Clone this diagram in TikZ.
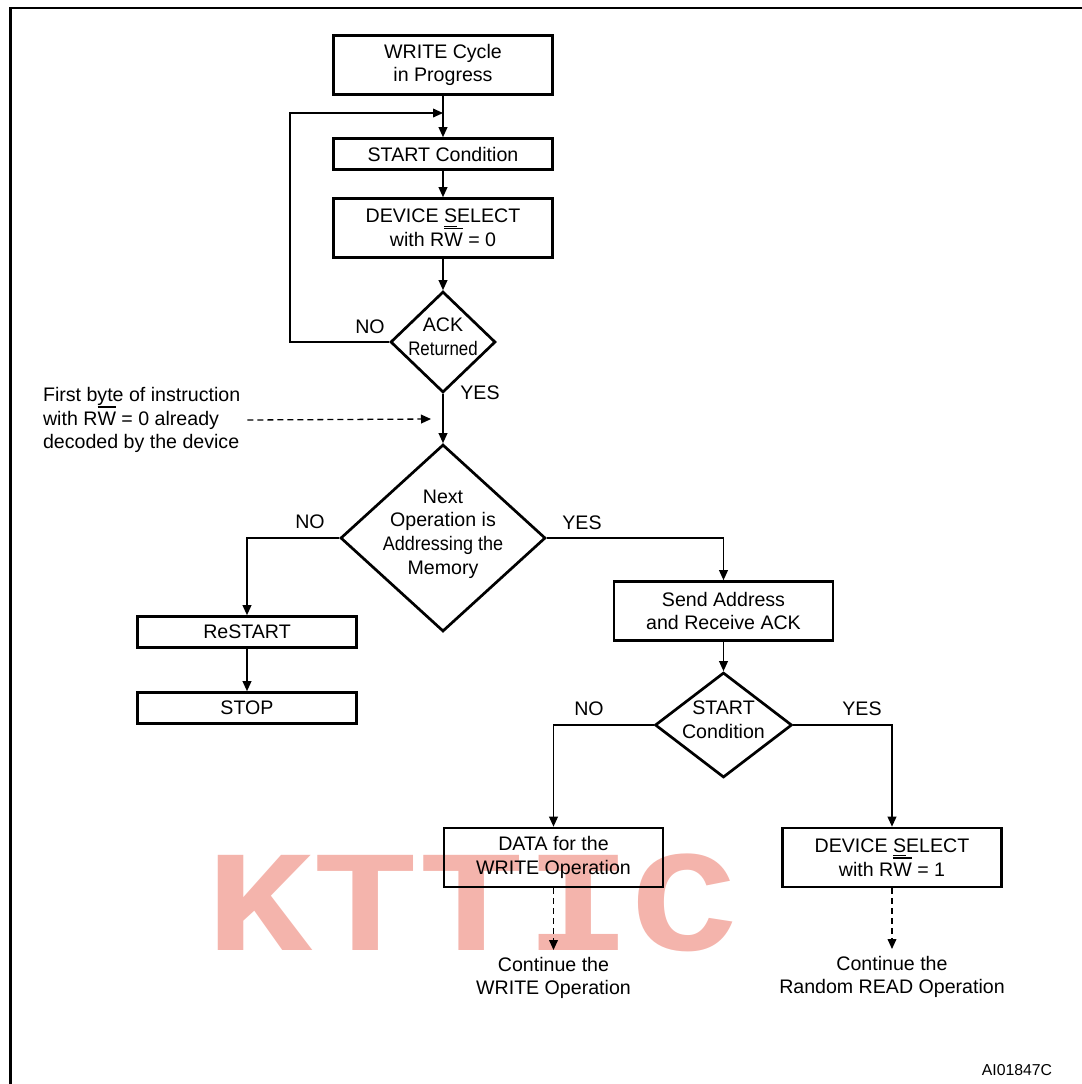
\documentclass[tikz,border=0pt]{standalone}
\usepackage{fontspec}
\setmainfont{Liberation Sans}
\newfontfamily\markfont{Liberation Mono}
\usetikzlibrary{shapes.geometric,arrows.meta}
\definecolor{markpink}{RGB}{244,180,172}
% W with a bar over it, S with a bar under it
\newcommand{\barW}{\leavevmode\setbox0\hbox{W}\rlap{\rule[8.7pt]{\wd0}{0.6pt}}W}
\newcommand{\lowS}{\leavevmode\setbox0\hbox{S}\rlap{\rule[-2pt]{\wd0}{0.6pt}}S}

\begin{document}
\begin{tikzpicture}[x=0.5pt,y=-0.5pt,
  font=\fontsize{9.8}{11.8}\selectfont,
  box/.style={draw,line width=1.35pt,minimum width=109.5pt,minimum height=15.5pt,inner sep=0pt,align=center},
  tallbox/.style={box,minimum height=29.5pt},
  decision/.style={draw,diamond,line width=1.35pt,inner sep=0pt},
  arr/.style={line width=0.65pt,-{Triangle[length=5pt,width=4.4pt]}},
  dasharr/.style={arr,dash pattern=on 3pt off 2pt}]
\useasboundingbox (0,0) rectangle (1082,1084);
% watermark behind everything
\node [anchor=base west,inner sep=0pt,text=markpink,font=\markfont\bfseries\fontsize{86}{86}\selectfont] (mark) at (206,950) {\scalebox{1.03}[0.84]{KTTIC}};
% frame
\draw [line width=1.25pt] (10.3,1100) -- (10.3,7.8) -- (1100,7.8);
% boxes
\node [tallbox] (wcp) at (443,65) {WRITE Cycle\\in Progress};
\node [box] (start) at (443,154) {START Condition};
\node [tallbox] (dsel) at (443,228) {DEVICE \lowS ELECT\\with R\barW\ = 0};
\node [decision,minimum width=52.5pt,minimum height=50.5pt,label={[align=center,yshift=2.5pt]center:ACK\\\scalebox{0.86}[1]{Returned}}] (ack) at (443,342) {};
\node [decision,minimum width=102.5pt,minimum height=93.5pt,label={[align=center,yshift=2pt]center:Next\\Operation is\\\scalebox{0.92}[1]{Addressing the}\\Memory}] (next) at (443,538) {};
\node [box] (restart) at (247,632) {ReSTART};
\node [box] (stop) at (247,708) {STOP};
\node [tallbox] (send) at (723.5,611) {Send Address\\and Receive ACK};
\node [decision,minimum width=68.5pt,minimum height=52.5pt,label={[align=center,yshift=2.5pt]center:START\\Condition}] (cond) at (723.5,725) {};
\node [tallbox] (data) at (553.5,857.5) {DATA for the\\WRITE Operation};
\node [tallbox] (rsel) at (892,857.5) {DEVICE \lowS ELECT\\with R\barW\ = 1};
\node [align=center] (cw) at (553.5,978) {Continue the\\WRITE Operation};
\node [align=center] (cr) at (892,977) {Continue the\\Random READ Operation};
\node [align=left,anchor=west] (note) at (36,420) {First byte of instruction\\with R\barW\ = 0 already\\decoded by the device};
% branch labels
\node (ackno) at (370,327) {NO};
\node (ackyes) at (480,393) {YES};
\node (nextno) at (310,522) {NO};
\node (nextyes) at (582,523) {YES};
\node (condno) at (589,709) {NO};
\node (condyes) at (862,709) {YES};
\node [font=\fontsize{7.9}{9}\selectfont] (ref) at (1017,1070) {AI01847C};
\coordinate (loop) at (290,113);
\coordinate (join) at (443,113);
\coordinate (hit) at (431,419);
% connectors
\draw [arr] (wcp) -- (start);
\draw [arr] (start) -- (dsel);
\draw [arr] (dsel) -- (ack);
\draw [arr] (ack.west) -| (loop) -- (join);
\draw [arr] (ack) -- (next);
\draw [dasharr] (note.east) -- (hit);
\draw [arr] (next.west) -| (restart);
\draw [arr] (restart) -- (stop);
\draw [arr] (next.east) -| (send);
\draw [arr] (send) -- (cond);
\draw [arr] (cond.west) -| (data);
\draw [arr] (cond.east) -| (rsel);
\draw [dasharr] (data) -- (cw);
\draw [dasharr] (rsel) -- (cr);
\end{tikzpicture}
\end{document}
